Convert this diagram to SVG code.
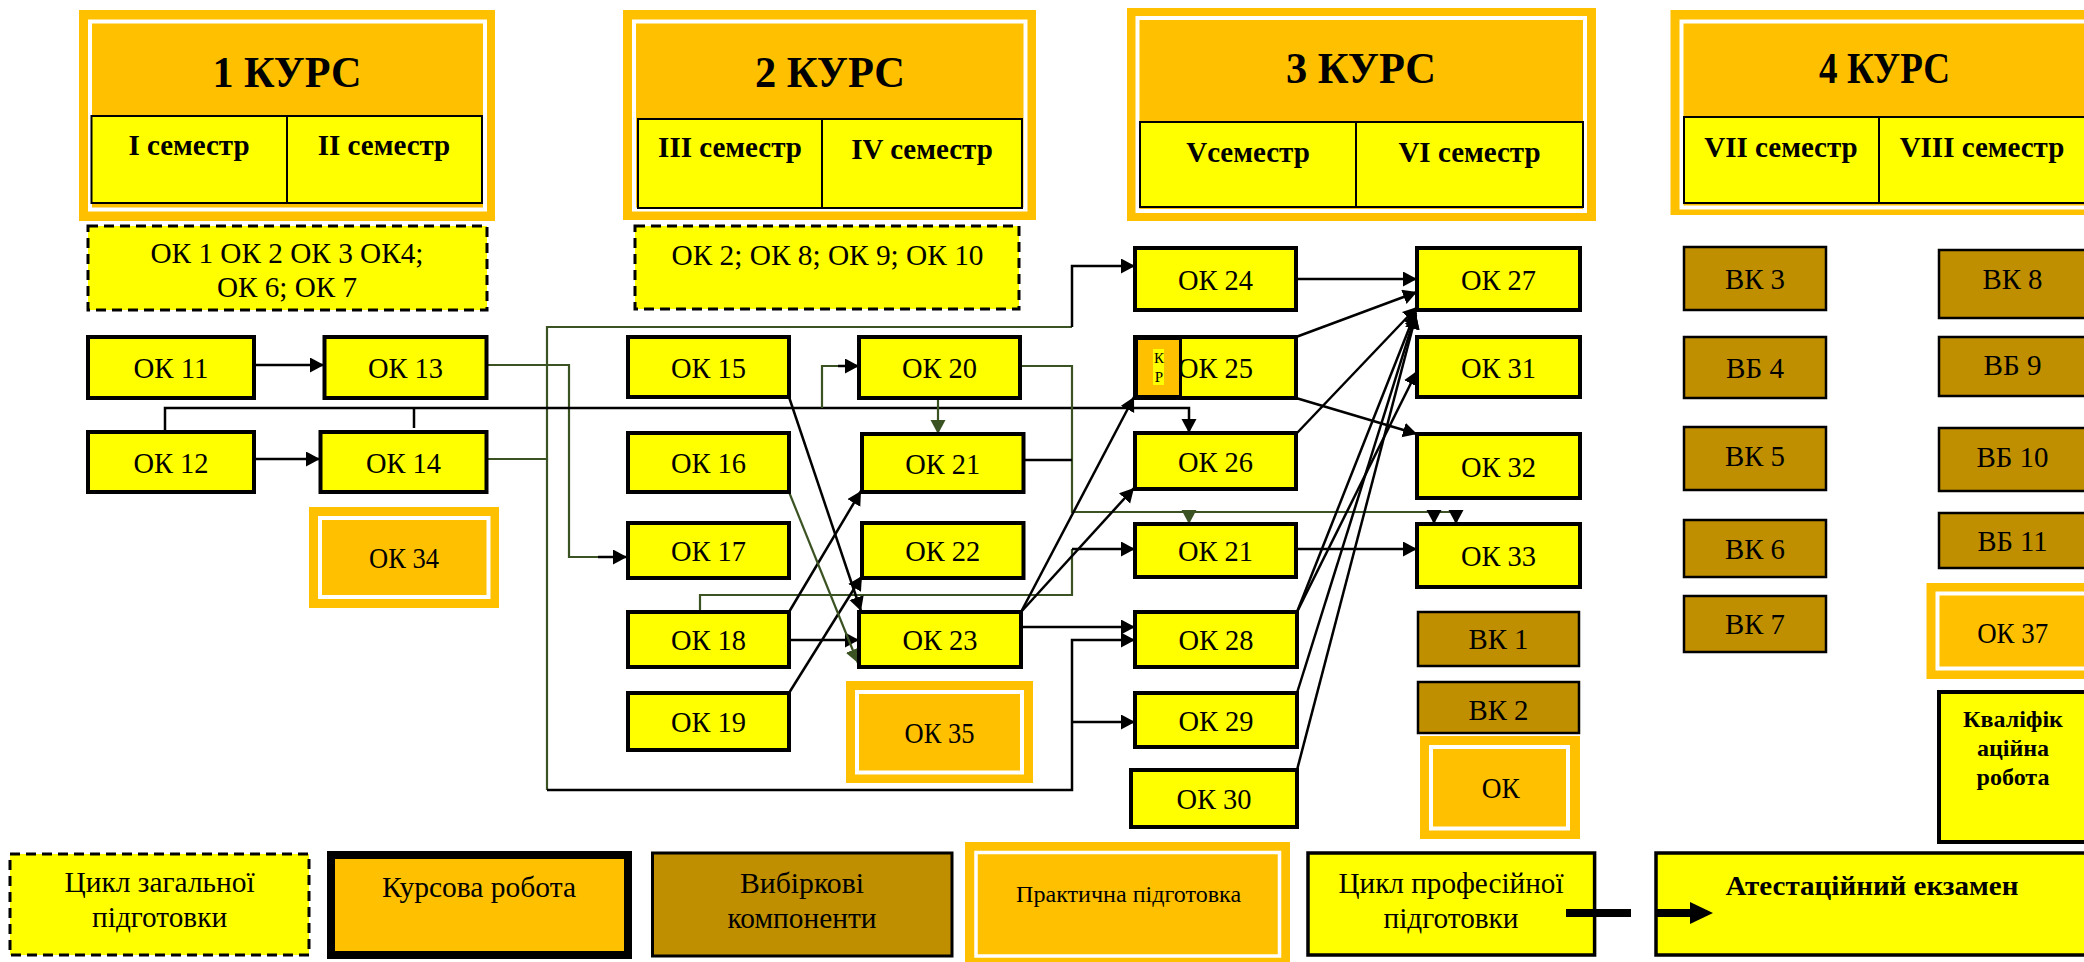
<svg xmlns="http://www.w3.org/2000/svg" width="2084" height="962" viewBox="0 0 2084 962">
<style>
.ok{fill:#FFFF00;stroke:#000;stroke-width:4}
.vk{fill:#BF8F00;stroke:#000;stroke-width:2.5}
.sem{fill:#FFFF00;stroke:#000;stroke-width:2}
.or{fill:#FFC000}
.wb{fill:#FFC000;stroke:#fff;stroke-width:4}
.dash{fill:#FFFF00;stroke:#000;stroke-width:3;stroke-dasharray:10 6}
.t{font-family:"Liberation Serif","Times New Roman",serif;font-size:28px;text-anchor:middle;fill:#000}
.n{font-size:30px}
.b{font-weight:bold}
.h{font-size:44px;font-weight:bold}
.s{font-size:29px;font-weight:bold}
.ln{fill:none;stroke:#000;stroke-width:2.5}
.gn{fill:none;stroke:#3B5323;stroke-width:2.2}
</style>
<defs>
<marker id="ab" markerUnits="userSpaceOnUse" markerWidth="15" markerHeight="16" refX="14" refY="7.5" orient="auto"><path d="M0,0 L14,7.5 L0,15 z" fill="#000"/></marker>
<marker id="ag" markerUnits="userSpaceOnUse" markerWidth="15" markerHeight="16" refX="14" refY="7.5" orient="auto"><path d="M0,0 L14,7.5 L0,15 z" fill="#3B5323"/></marker>
</defs>
<rect width="2084" height="962" fill="#fff"/>

<!-- Course headers -->
<g id="kurs1">
<rect class="or" x="79" y="10" width="416" height="211"/>
<rect class="wb" x="90" y="21.5" width="395" height="188"/>
<text class="t h" x="287" y="87" textLength="149" lengthAdjust="spacingAndGlyphs">1 КУРС</text>
<rect class="sem" x="91.5" y="116" width="195.5" height="87"/>
<rect class="sem" x="287" y="116" width="195" height="87"/>
<text class="t s" x="189" y="155">I семестр</text>
<text class="t s" x="384" y="155">II семестр</text>
</g>
<g id="kurs2">
<rect class="or" x="623" y="10" width="413" height="210"/>
<rect class="wb" x="634" y="21.5" width="391.5" height="188"/>
<text class="t h" x="830" y="87" textLength="150" lengthAdjust="spacingAndGlyphs">2 КУРС</text>
<rect class="sem" x="638" y="119" width="184" height="89"/>
<rect class="sem" x="822" y="119" width="200" height="89"/>
<text class="t s" x="730" y="157">III семестр</text>
<text class="t s" x="922" y="159">IV семестр</text>
</g>
<g id="kurs3">
<rect class="or" x="1127" y="8" width="469" height="213"/>
<rect class="wb" x="1137.5" y="18" width="447.5" height="193"/>
<text class="t h" x="1361" y="83" textLength="150" lengthAdjust="spacingAndGlyphs">3 КУРС</text>
<rect class="sem" x="1140" y="122" width="216" height="85"/>
<rect class="sem" x="1356" y="122" width="227" height="85"/>
<text class="t s" x="1248" y="162">Vсеместр</text>
<text class="t s" x="1469.5" y="162">VI семестр</text>
</g>
<g id="kurs4">
<rect class="or" x="1670.5" y="10" width="430" height="205"/>
<rect class="wb" x="1681.5" y="21.5" width="430" height="186"/>
<text class="t h" x="1884.6" y="83" textLength="131" lengthAdjust="spacingAndGlyphs">4 КУРС</text>
<rect class="sem" x="1684" y="117" width="195" height="86"/>
<rect class="sem" x="1879" y="117" width="206" height="86"/>
<text class="t s" x="1781" y="157">VII семестр</text>
<text class="t s" x="1982" y="157">VIII семестр</text>
</g>

<!-- General cycle boxes -->
<g id="zag1">
<rect class="dash" x="88" y="226" width="399" height="84"/>
<text class="t n" x="287" y="263" textLength="273" lengthAdjust="spacingAndGlyphs">ОК 1 ОК 2 ОК 3 ОК4;</text>
<text class="t n" x="287" y="297" textLength="140" lengthAdjust="spacingAndGlyphs">ОК 6; ОК 7</text>
</g>
<g id="zag2">
<rect class="dash" x="635" y="226" width="384" height="83"/>
<text class="t n" x="827.5" y="265" textLength="312" lengthAdjust="spacingAndGlyphs">ОК 2; ОК 8; ОК 9; ОК 10</text>
</g>

<!-- Connectors -->
<g id="connectors">
<path class="ln" d="M254,365 H324" marker-end="url(#ab)"/>
<path class="ln" d="M254,459 H320" marker-end="url(#ab)"/>
<path class="gn" d="M487,365 H569 V557 H600"/>
<path class="ln" d="M598,557 H627" marker-end="url(#ab)"/>
<path class="gn" d="M487,459 H547 V327 H1072"/>
<path class="ln" d="M1072,327 V266 H1135" marker-end="url(#ab)"/>
<path class="gn" d="M547,459 V790"/>
<path class="ln" d="M547,790 H1072 V640 H1135" marker-end="url(#ab)"/>
<path class="ln" d="M1072,722 H1135" marker-end="url(#ab)"/>
<path class="ln" d="M165,432 V408 H1189 V433" marker-end="url(#ab)"/>
<path class="ln" d="M414,408 V428"/>
<path class="gn" d="M822,408 V366 H840"/>
<path class="ln" d="M838,366 H859" marker-end="url(#ab)"/>
<path class="gn" d="M938,398 V434" marker-end="url(#ag)"/>
<path class="gn" d="M1020,366 H1072 V512 H1456"/>
<path class="gn" d="M1189,510 V524" marker-end="url(#ag)"/>
<path class="ln" d="M1434,510 V524" marker-end="url(#ab)"/>
<path class="ln" d="M1456,510 V524" marker-end="url(#ab)"/>
<path class="ln" d="M1023.5,460 H1072"/>
<path class="gn" d="M700,612 V595 H1072 V549"/>
<path class="ln" d="M1072,549 H1135" marker-end="url(#ab)"/>
<path class="ln" d="M789,612 L861,491" marker-end="url(#ab)"/>
<path class="ln" d="M789,640 H859" marker-end="url(#ab)"/>
<path class="ln" d="M789,693 L862,576" marker-end="url(#ab)"/>
<path class="ln" d="M789,397 L861,611" marker-end="url(#ab)"/>
<path class="gn" d="M789,492 L858,663" marker-end="url(#ag)"/>
<path class="ln" d="M1021,612 L1134,397" marker-end="url(#ab)"/>
<path class="ln" d="M1021,612 L1134,488" marker-end="url(#ab)"/>
<path class="ln" d="M1021,627 H1135" marker-end="url(#ab)"/>
<path class="ln" d="M1296,279 H1417" marker-end="url(#ab)"/>
<path class="ln" d="M1296,337 L1417,292" marker-end="url(#ab)"/>
<path class="ln" d="M1297,433 L1417,307" marker-end="url(#ab)"/>
<path class="ln" d="M1297,612 L1416,311" marker-end="url(#ab)"/>
<path class="ln" d="M1297,612 L1417,371" marker-end="url(#ab)"/>
<path class="ln" d="M1297,693 L1416,313" marker-end="url(#ab)"/>
<path class="ln" d="M1297,770 L1416,315" marker-end="url(#ab)"/>
<path class="ln" d="M1296,398 L1417,434" marker-end="url(#ab)"/>
<path class="ln" d="M1296,549 H1417" marker-end="url(#ab)"/>
</g>

<!-- Course 1 nodes -->
<g id="ok11"><rect class="ok" x="88" y="337" width="166" height="61"/><text class="t n" x="171" y="378" textLength="75" lengthAdjust="spacingAndGlyphs">ОК 11</text></g>
<g id="ok13"><rect class="ok" x="324.5" y="337" width="162" height="61"/><text class="t n" x="405.5" y="378" textLength="75" lengthAdjust="spacingAndGlyphs">ОК 13</text></g>
<g id="ok12"><rect class="ok" x="88" y="432" width="166" height="60"/><text class="t n" x="171" y="473" textLength="75" lengthAdjust="spacingAndGlyphs">ОК 12</text></g>
<g id="ok14"><rect class="ok" x="320.5" y="432" width="166" height="60"/><text class="t n" x="403.5" y="473" textLength="75" lengthAdjust="spacingAndGlyphs">ОК 14</text></g>
<g id="ok34"><rect class="or" x="309" y="507" width="190" height="101"/><rect class="wb" x="320" y="518" width="168.5" height="79"/><text class="t n" x="404" y="568" textLength="70" lengthAdjust="spacingAndGlyphs">ОК 34</text></g>

<!-- Course 2 nodes -->
<g id="ok15"><rect class="ok" x="628" y="337" width="161" height="60"/><text class="t n" x="708.5" y="378" textLength="75" lengthAdjust="spacingAndGlyphs">ОК 15</text></g>
<g id="ok20"><rect class="ok" x="859" y="337" width="161" height="61"/><text class="t n" x="939.5" y="378" textLength="75" lengthAdjust="spacingAndGlyphs">ОК 20</text></g>
<g id="ok16"><rect class="ok" x="628" y="433" width="161" height="59"/><text class="t n" x="708.5" y="473" textLength="75" lengthAdjust="spacingAndGlyphs">ОК 16</text></g>
<g id="ok21a"><rect class="ok" x="862" y="434" width="161.5" height="58"/><text class="t n" x="942.7" y="474" textLength="75" lengthAdjust="spacingAndGlyphs">ОК 21</text></g>
<g id="ok17"><rect class="ok" x="628" y="523" width="161" height="55"/><text class="t n" x="708.5" y="561" textLength="75" lengthAdjust="spacingAndGlyphs">ОК 17</text></g>
<g id="ok22"><rect class="ok" x="862" y="523" width="161.5" height="55"/><text class="t n" x="942.7" y="561" textLength="75" lengthAdjust="spacingAndGlyphs">ОК 22</text></g>
<g id="ok18"><rect class="ok" x="628" y="612" width="161" height="55"/><text class="t n" x="708.5" y="650" textLength="75" lengthAdjust="spacingAndGlyphs">ОК 18</text></g>
<g id="ok23"><rect class="ok" x="859" y="612" width="162" height="55"/><text class="t n" x="940" y="650" textLength="75" lengthAdjust="spacingAndGlyphs">ОК 23</text></g>
<g id="ok19"><rect class="ok" x="628" y="693" width="161" height="57"/><text class="t n" x="708.5" y="732" textLength="75" lengthAdjust="spacingAndGlyphs">ОК 19</text></g>
<g id="ok35"><rect class="or" x="846" y="681" width="187" height="102"/><rect class="wb" x="857" y="692" width="165" height="80.5"/><text class="t n" x="939.5" y="743" textLength="70" lengthAdjust="spacingAndGlyphs">ОК 35</text></g>

<!-- Course 3 nodes -->
<g id="ok24"><rect class="ok" x="1135" y="248" width="161" height="62"/><text class="t n" x="1215.5" y="290" textLength="75" lengthAdjust="spacingAndGlyphs">ОК 24</text></g>
<g id="ok25"><rect class="ok" x="1135" y="337" width="161" height="61"/><text class="t n" x="1215.5" y="378" textLength="75" lengthAdjust="spacingAndGlyphs">ОК 25</text>
<rect x="1136.5" y="338.5" width="44" height="58" fill="#FFC000" stroke="#000" stroke-width="3"/>
<rect x="1153" y="349" width="11" height="36" fill="#FFFF00"/>
<text class="t" x="1159" y="363" style="font-size:15px">К</text>
<text class="t" x="1159" y="382" style="font-size:15px">Р</text></g>
<g id="ok26"><rect class="ok" x="1135" y="433" width="161" height="56"/><text class="t n" x="1215.5" y="472" textLength="75" lengthAdjust="spacingAndGlyphs">ОК 26</text></g>
<g id="ok21b"><rect class="ok" x="1135" y="524" width="161" height="53"/><text class="t n" x="1215.5" y="561" textLength="75" lengthAdjust="spacingAndGlyphs">ОК 21</text></g>
<g id="ok28"><rect class="ok" x="1135" y="612" width="162" height="55"/><text class="t n" x="1216" y="650" textLength="75" lengthAdjust="spacingAndGlyphs">ОК 28</text></g>
<g id="ok29"><rect class="ok" x="1135" y="693" width="162" height="54"/><text class="t n" x="1216" y="731" textLength="75" lengthAdjust="spacingAndGlyphs">ОК 29</text></g>
<g id="ok30"><rect class="ok" x="1131" y="770" width="166" height="57"/><text class="t n" x="1214" y="809" textLength="75" lengthAdjust="spacingAndGlyphs">ОК 30</text></g>
<g id="ok27"><rect class="ok" x="1417" y="248" width="163" height="62"/><text class="t n" x="1498.5" y="290" textLength="75" lengthAdjust="spacingAndGlyphs">ОК 27</text></g>
<g id="ok31"><rect class="ok" x="1417" y="337" width="163" height="60"/><text class="t n" x="1498.5" y="378" textLength="75" lengthAdjust="spacingAndGlyphs">ОК 31</text></g>
<g id="ok32"><rect class="ok" x="1417" y="434" width="163" height="64"/><text class="t n" x="1498.5" y="477" textLength="75" lengthAdjust="spacingAndGlyphs">ОК 32</text></g>
<g id="ok33"><rect class="ok" x="1417" y="524" width="163" height="63"/><text class="t n" x="1498.5" y="566" textLength="75" lengthAdjust="spacingAndGlyphs">ОК 33</text></g>
<g id="vk1"><rect class="vk" x="1418" y="612" width="161" height="54"/><text class="t n" x="1498.5" y="649" textLength="60" lengthAdjust="spacingAndGlyphs">ВК 1</text></g>
<g id="vk2"><rect class="vk" x="1418" y="682" width="161" height="51"/><text class="t n" x="1498.5" y="720" textLength="60" lengthAdjust="spacingAndGlyphs">ВК 2</text></g>
<g id="ok-pr"><rect class="or" x="1420" y="736" width="160" height="103"/><rect class="wb" x="1431" y="747" width="137" height="81.5"/><text class="t n" x="1500.8" y="798" textLength="38" lengthAdjust="spacingAndGlyphs">ОК</text></g>

<!-- Course 4 nodes -->
<g id="vk3"><rect class="vk" x="1684" y="247" width="142" height="63"/><text class="t n" x="1755" y="289" textLength="60" lengthAdjust="spacingAndGlyphs">ВК 3</text></g>
<g id="vb4"><rect class="vk" x="1684" y="337" width="142" height="61"/><text class="t n" x="1755" y="378" textLength="58" lengthAdjust="spacingAndGlyphs">ВБ 4</text></g>
<g id="vk5"><rect class="vk" x="1684" y="427" width="142" height="63"/><text class="t n" x="1755" y="466" textLength="60" lengthAdjust="spacingAndGlyphs">ВК 5</text></g>
<g id="vk6"><rect class="vk" x="1684" y="520" width="142" height="57"/><text class="t n" x="1755" y="559" textLength="60" lengthAdjust="spacingAndGlyphs">ВК 6</text></g>
<g id="vk7"><rect class="vk" x="1684" y="596" width="142" height="56"/><text class="t n" x="1755" y="634" textLength="60" lengthAdjust="spacingAndGlyphs">ВК 7</text></g>
<g id="vk8"><rect class="vk" x="1939" y="250" width="150" height="68"/><text class="t n" x="2012.5" y="289" textLength="60" lengthAdjust="spacingAndGlyphs">ВК 8</text></g>
<g id="vb9"><rect class="vk" x="1939" y="337" width="150" height="59"/><text class="t n" x="2012.5" y="375" textLength="58" lengthAdjust="spacingAndGlyphs">ВБ 9</text></g>
<g id="vb10"><rect class="vk" x="1939" y="428" width="150" height="63"/><text class="t n" x="2012.5" y="467" textLength="72" lengthAdjust="spacingAndGlyphs">ВБ 10</text></g>
<g id="vb11"><rect class="vk" x="1939" y="513" width="150" height="55"/><text class="t n" x="2012.5" y="551" textLength="70" lengthAdjust="spacingAndGlyphs">ВБ 11</text></g>
<g id="ok37"><rect class="or" x="1926.5" y="583" width="175" height="96"/><rect class="wb" x="1937.5" y="593.5" width="180" height="75"/><text class="t n" x="2012.7" y="643" textLength="71" lengthAdjust="spacingAndGlyphs">ОК 37</text></g>
<g id="kvalif"><rect class="ok" x="1939" y="692" width="160" height="150"/>
<text class="t b" x="2013" y="727" style="font-size:24px">Кваліфік</text>
<text class="t b" x="2013" y="756" style="font-size:24px">аційна</text>
<text class="t b" x="2013" y="785" style="font-size:24px">робота</text></g>

<!-- Legend -->
<g id="leg-zag"><rect class="dash" x="10" y="854" width="299" height="101"/><text class="t n" x="159.6" y="892" textLength="190" lengthAdjust="spacingAndGlyphs">Цикл загальної</text><text class="t n" x="159.6" y="927" textLength="135" lengthAdjust="spacingAndGlyphs">підготовки</text></g>
<g id="leg-kurs"><rect x="331" y="855" width="301" height="103" fill="#C8B88A"/><rect x="331" y="855" width="297" height="100" fill="#FFC000" stroke="#000" stroke-width="8"/><text class="t n" x="479" y="897" textLength="194" lengthAdjust="spacingAndGlyphs">Курсова робота</text></g>
<g id="leg-vib"><rect class="vk" x="652.5" y="853" width="299.5" height="103" style="stroke-width:3"/><text class="t n" x="802" y="893" textLength="124" lengthAdjust="spacingAndGlyphs">Вибіркові</text><text class="t n" x="802" y="928" textLength="149" lengthAdjust="spacingAndGlyphs">компоненти</text></g>
<g id="leg-prak"><rect class="or" x="965" y="842" width="325" height="120"/><rect class="wb" x="976" y="852.5" width="303.5" height="103.5" style="stroke-width:3.5"/><text class="t" x="1128.6" y="902" style="font-size:23px" textLength="225" lengthAdjust="spacingAndGlyphs">Практична підготовка</text></g>
<g id="leg-prof"><rect class="ok" x="1308" y="853" width="286.6" height="102" style="stroke-width:3.5"/><text class="t n" x="1451" y="893" textLength="225" lengthAdjust="spacingAndGlyphs">Цикл професійної</text><text class="t n" x="1451" y="928" textLength="135" lengthAdjust="spacingAndGlyphs">підготовки</text></g>
<g id="leg-atest"><rect class="ok" x="1656" y="853" width="440" height="102" style="stroke-width:3.5"/><text class="t b" x="1872" y="895" style="font-size:28px" textLength="293" lengthAdjust="spacingAndGlyphs">Атестаційний екзамен</text></g>
<g id="leg-arrow">
<path d="M1566,913 H1631" stroke="#000" stroke-width="8" fill="none"/>
<path d="M1655,913 H1692" stroke="#000" stroke-width="8" fill="none"/>
<polygon points="1690,902 1713,913 1690,924" fill="#000"/>
</g>
</svg>
